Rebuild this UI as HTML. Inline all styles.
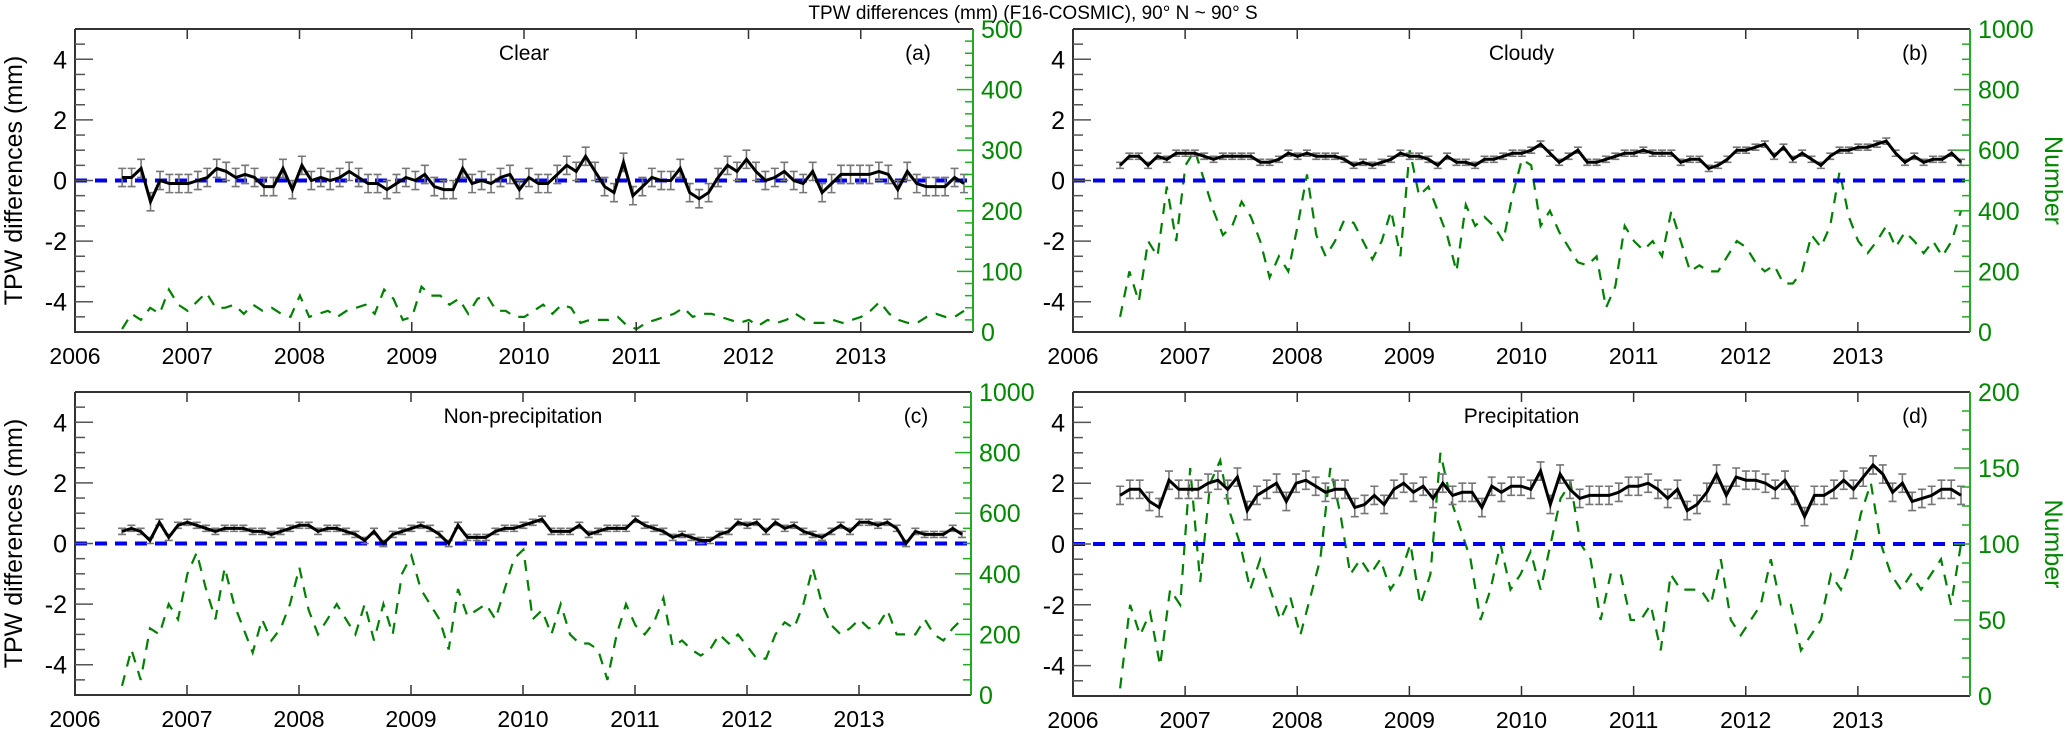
<!DOCTYPE html>
<html><head><meta charset="utf-8"><style>
html,body{margin:0;padding:0;background:#fff;}
svg{display:block;font-family:"Liberation Sans Narrow","Liberation Sans",sans-serif;}
</style></head><body>
<svg id="fig" width="2067" height="731" viewBox="0 0 2067 731">
<text x="1033" y="19" font-size="19" text-anchor="middle">TPW differences (mm) (F16-COSMIC), 90° N ~ 90° S</text>
</svg>
<script>
const yearTicks=[2006,2007,2008,2009,2010,2011,2012,2013];
const leftTicks=[-4,-2,0,2,4];
const tStart=2006.42, tEnd=2013.92;
const diffA=[0.1,0.1,0.4,-0.7,0,-0.1,-0.1,-0.1,0,0.1,0.4,0.3,0.1,0.2,0.1,-0.2,-0.2,0.4,-0.3,0.5,0,0.1,0,0.1,0.3,0.1,-0.1,-0.1,-0.3,-0.1,0.1,0,0.2,-0.2,-0.3,-0.3,0.4,-0.1,0,-0.1,0.1,0.2,-0.3,0.1,-0.1,-0.1,0.2,0.5,0.3,0.8,0.3,-0.2,-0.4,0.6,-0.5,-0.2,0.1,0,0,0.4,-0.4,-0.6,-0.4,0.1,0.5,0.3,0.7,0.3,0,0.1,0.3,0,-0.1,0.3,-0.4,-0.1,0.2,0.2,0.2,0.2,0.3,0.2,-0.3,0.3,-0.1,-0.2,-0.2,-0.2,0.1,-0.1];
const numA=[5,30,20,40,30,70,45,35,50,65,40,40,45,30,45,35,40,30,25,60,25,30,35,25,35,40,45,30,70,55,20,25,75,60,60,45,55,30,55,60,35,35,25,25,35,45,30,45,40,15,20,20,20,25,10,5,15,20,25,30,40,25,30,30,25,20,15,20,10,20,15,20,30,20,15,15,20,15,20,25,35,50,30,20,15,15,25,30,25,25,35];
const diffB=[0.5,0.8,0.8,0.5,0.8,0.7,0.9,0.9,0.9,0.8,0.7,0.8,0.8,0.8,0.8,0.6,0.6,0.7,0.9,0.8,0.9,0.8,0.8,0.8,0.7,0.5,0.6,0.5,0.6,0.7,0.9,0.8,0.8,0.7,0.5,0.8,0.6,0.6,0.5,0.7,0.7,0.8,0.9,0.9,1.0,1.2,0.9,0.6,0.8,1.0,0.6,0.6,0.7,0.8,0.9,0.9,1.0,0.9,0.9,0.9,0.6,0.7,0.7,0.4,0.5,0.7,1.0,1.0,1.1,1.2,0.8,1.1,0.7,0.9,0.7,0.5,0.8,1.0,1.0,1.1,1.1,1.2,1.3,0.9,0.6,0.8,0.6,0.7,0.7,0.9,0.6];
const numB=[50,200,100,300,250,480,300,550,600,500,400,320,350,430,380,300,180,250,200,350,520,320,250,300,370,360,300,240,300,400,250,600,450,480,400,320,200,420,350,380,350,300,450,570,550,350,400,330,280,230,220,250,80,150,350,300,270,300,250,400,300,200,220,200,200,250,300,280,230,200,220,160,160,200,320,280,350,530,380,300,260,300,350,280,330,300,260,300,250,300,400];
const diffC=[0.4,0.5,0.4,0.1,0.7,0.2,0.6,0.7,0.6,0.5,0.4,0.5,0.5,0.5,0.4,0.4,0.3,0.4,0.5,0.6,0.6,0.4,0.5,0.5,0.4,0.3,0.1,0.4,0.0,0.3,0.4,0.5,0.6,0.5,0.3,0.0,0.6,0.2,0.2,0.2,0.4,0.5,0.5,0.6,0.7,0.8,0.4,0.4,0.4,0.6,0.3,0.4,0.5,0.5,0.5,0.8,0.6,0.5,0.4,0.2,0.3,0.2,0.1,0.1,0.3,0.4,0.7,0.6,0.7,0.4,0.7,0.5,0.6,0.4,0.3,0.2,0.4,0.6,0.4,0.7,0.7,0.6,0.7,0.5,0.0,0.4,0.3,0.3,0.3,0.5,0.3];
const numC=[30,150,50,220,200,300,250,400,470,350,250,420,300,220,140,250,180,220,300,420,280,200,250,300,250,200,300,180,300,200,400,460,350,300,250,150,350,260,280,300,250,350,450,480,250,280,200,300,200,170,170,150,50,200,300,230,200,240,320,160,180,150,130,150,200,170,200,160,120,120,200,240,220,300,420,300,230,200,220,250,220,230,280,200,200,200,250,200,180,220,250];
const diffD=[1.6,1.8,1.8,1.4,1.2,2.1,1.8,1.8,1.8,2.0,2.1,1.8,2.2,1.1,1.6,1.8,2.0,1.4,2.0,2.1,1.9,1.7,1.8,1.8,1.2,1.3,1.6,1.3,1.8,2.0,1.7,1.9,1.5,2.0,1.6,1.7,1.7,1.2,1.9,1.7,1.9,1.9,1.8,2.4,1.3,2.3,1.8,1.5,1.6,1.6,1.6,1.7,1.9,1.9,2.0,1.8,1.5,1.8,1.1,1.3,1.7,2.3,1.6,2.2,2.1,2.1,2.0,1.8,2.1,1.6,0.9,1.6,1.6,1.8,2.1,1.8,2.2,2.6,2.3,1.7,2.0,1.4,1.5,1.6,1.8,1.8,1.6];
const numD=[5,60,40,55,20,70,60,150,75,140,155,120,100,70,90,70,50,65,40,65,90,150,120,80,90,80,90,70,80,100,60,80,160,130,110,90,50,70,100,70,80,95,70,100,130,140,100,90,50,80,80,50,50,60,30,80,70,70,70,60,90,50,40,50,60,90,60,60,30,40,50,80,70,90,120,140,100,80,70,80,70,80,90,60,100];
const errs=[0.3,0.1,0.1,0.3];
const rightMax=[500,1000,1000,200];
const rightStep=[100,200,200,50];
const rightMinor=[20,50,50,12.5];
const titles=["Clear","Cloudy","Non-precipitation","Precipitation"];
const letters=["(a)","(b)","(c)","(d)"];
const diffs=[diffA,diffB,diffC,diffD];
const nums=[numA,numB,numC,numD];
const boxes=[{x0:75,x1:973,y0:29,y1:332},{x0:1073,x1:1970,y0:29,y1:332},{x0:75,x1:971,y0:392,y1:695},{x0:1073,x1:1970,y0:392,y1:696}];
const NS="http://www.w3.org/2000/svg";
const svg=document.getElementById('fig');
function mk(tag,attrs,parent,text){const e=document.createElementNS(NS,tag);for(const k in attrs)e.setAttribute(k,attrs[k]);if(text!==undefined)e.textContent=text;(parent||svg).appendChild(e);return e;}
boxes.forEach((b,p)=>{
  const g=mk('g',{});
  
  
  const xs=t=>b.x0+(t-2006)/8*(b.x1-b.x0);
  const ys=v=>b.y1-(v+5)/10*(b.y1-b.y0);
  const yr=v=>b.y1-v/rightMax[p]*(b.y1-b.y0);
  const tOf=(i,n)=>tStart+i*(tEnd-tStart)/(n-1);
  const nv=nums[p];
  const gp=nv.map((v,i)=>(i?'L':'M')+xs(tOf(i,nv.length)).toFixed(1)+' '+yr(v).toFixed(1)).join(' ');
  const gl=mk('path',{d:gp,fill:'none',stroke:'#008000','stroke-width':2.2,'stroke-dasharray':'11 9'},g);
  
  
  const zl=mk('line',{x1:b.x0,x2:b.x1,y1:ys(0),y2:ys(0),stroke:'#0000ee','stroke-width':4,'stroke-dasharray':'12 8'},g);
  
  
  const dv=diffs[p];
  dv.forEach((v,i)=>{
    const x=xs(tOf(i,dv.length)),e=errs[p];
    const eb=mk('path',{d:`M${x} ${ys(v-e)}V${ys(v+e)}M${x-4} ${ys(v-e)}h8M${x-4} ${ys(v+e)}h8`,stroke:'#777','stroke-width':1.6,fill:'none'},g);
    
    
  });
  const bp=dv.map((v,i)=>(i?'L':'M')+xs(tOf(i,dv.length)).toFixed(1)+' '+ys(v).toFixed(1)).join(' ');
  const bl=mk('path',{d:bp,fill:'none',stroke:'#000','stroke-width':3,'stroke-linejoin':'miter'},g);
  
  
  mk('path',{d:`M${b.x0} ${b.y0}H${b.x1}M${b.x0} ${b.y0}V${b.y1}H${b.x1}`,stroke:'#333','stroke-width':2,fill:'none'},g);
  mk('line',{x1:b.x1,x2:b.x1,y1:b.y0,y2:b.y1,stroke:'#22aa22','stroke-width':2},g);
  yearTicks.forEach(t=>{
    const x=xs(t);
    mk('path',{d:`M${x} ${b.y1}v-10M${x} ${b.y0}v10`,stroke:'#333','stroke-width':1.5},g);
    const lt=mk('text',{x:x,y:b.y1+32,'font-size':23,'text-anchor':'middle'},g,String(t));
    
    
  });
  for(let v=-4.5;v<=4.51;v+=0.5){
    const major=Math.abs(v-Math.round(v/2)*2)<1e-6;
    mk('line',{x1:b.x0,x2:b.x0+(major?18:10),y1:ys(v),y2:ys(v),stroke:'#555','stroke-width':1.5},g);
  }
  leftTicks.forEach(v=>{
    const lt=mk('text',{x:b.x0-8,y:ys(v)+9,'font-size':25,'text-anchor':'end'},g,String(v));
    
    
  });
  for(let v=rightMinor[p];v<rightMax[p];v+=rightMinor[p]){
    const major=Math.abs(v/rightStep[p]-Math.round(v/rightStep[p]))<1e-6;
    mk('line',{x1:b.x1,x2:b.x1-(major?16:8),y1:yr(v),y2:yr(v),stroke:'#22aa22','stroke-width':1.5},g);
  }
  for(let v=0;v<=rightMax[p];v+=rightStep[p]){
    const rt=mk('text',{x:b.x1+8,y:yr(v)+9,'font-size':25,fill:'#008800'},g,String(v));
    
    
  }
  const tt=mk('text',{x:(b.x0+b.x1)/2,y:b.y0+31,'font-size':21,'text-anchor':'middle'},g,titles[p]);
  
  
  const lt=mk('text',{x:b.x1-55,y:b.y0+31,'font-size':21,'text-anchor':'middle'},g,letters[p]);
  
  
  if(p%2===0){
    const yl=mk('text',{x:0,y:0,'font-size':25,'text-anchor':'middle',transform:`translate(22 ${(b.y0+b.y1)/2}) rotate(-90)`,'font-family':'Liberation Sans, sans-serif'},g,'TPW differences (mm)');
    
    
  } else {
    const yl=mk('text',{x:0,y:0,'font-size':25,'text-anchor':'middle',fill:'#008800',transform:`translate(2045 ${(b.y0+b.y1)/2}) rotate(90)`,'font-family':'Liberation Sans, sans-serif'},g,'Number');
    
    
  }
});
</script>
</body></html>
